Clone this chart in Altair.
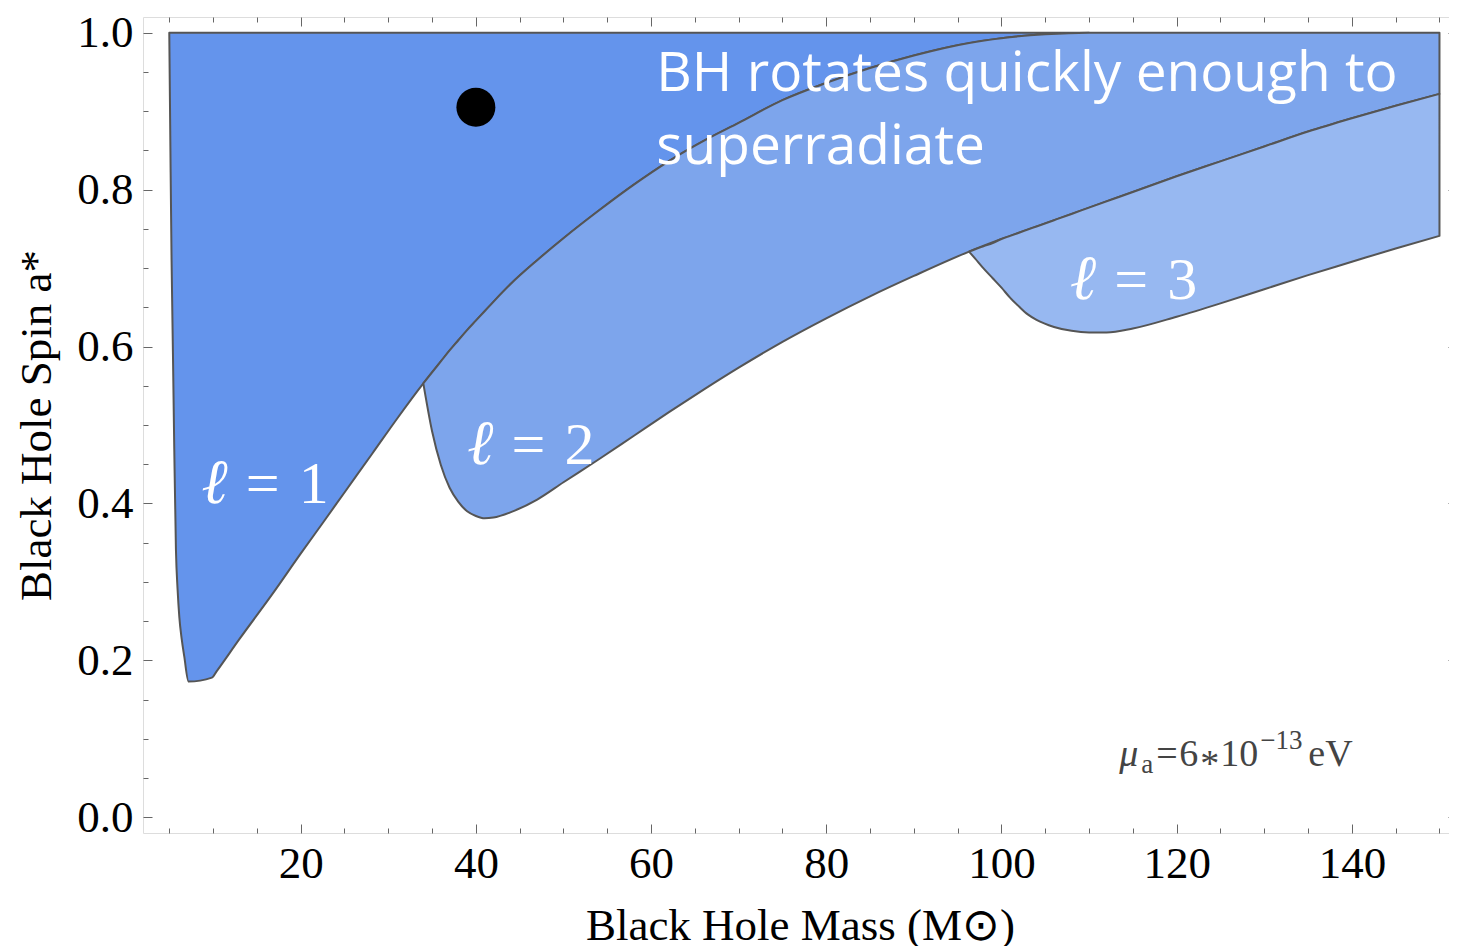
import altair as alt
import pandas as pd

X_DOMAIN = [2, 152]
Y_DOMAIN = [-0.02, 1.02]

X_MAJOR = [20, 40, 60, 80, 100, 120, 140]
X_MINOR = [5, 10, 15, 25, 30, 35, 45, 50, 55, 65, 70, 75, 85, 90, 95, 105, 110, 115, 125, 130, 135, 145, 150]
Y_MAJOR = [0.0, 0.2, 0.4, 0.6, 0.8, 1.0]
Y_MINOR = [0.05, 0.1, 0.15, 0.25, 0.3, 0.35, 0.45, 0.5, 0.55, 0.65, 0.7, 0.75, 0.85, 0.9, 0.95]

# l = 1 region: lower boundary, top is spin 1.0
l1_x = [5.0, 5.13, 5.26, 5.42, 5.57, 5.76, 5.95, 6.14, 6.42, 6.71,
        7.2, 9.87, 10.4, 13, 16.8, 20, 22.7, 25, 28.2, 31, 34,
        36, 38, 40, 42, 44, 47, 50, 54, 58, 62,
        66, 70, 75, 80, 85, 90, 95, 100, 105, 110]
l1_lo = [1.0, 0.85, 0.711, 0.59, 0.469, 0.341, 0.29, 0.256, 0.227, 0.205,
         0.173, 0.178, 0.186, 0.227, 0.285, 0.336, 0.378, 0.414, 0.464, 0.508, 0.553,
         0.581, 0.608, 0.633, 0.657, 0.680, 0.710, 0.738, 0.773, 0.806, 0.836,
         0.862, 0.885, 0.914, 0.936, 0.955, 0.971, 0.984, 0.993, 0.998, 1.0]
l1_hi = [1.0, 1.0, 1.0, 1.0, 1.0, 1.0, 1.0, 1.0, 1.0, 1.0,
         1.0, 1.0, 1.0, 1.0, 1.0, 1.0, 1.0, 1.0, 1.0, 1.0, 1.0,
         1.0, 1.0, 1.0, 1.0, 1.0, 1.0, 1.0, 1.0, 1.0, 1.0,
         1.0, 1.0, 1.0, 1.0, 1.0, 1.0, 1.0, 1.0, 1.0, 1.0]

# l = 2 region
l2_x = [34, 35, 36, 37, 38, 39, 40, 41, 42, 44,
        47, 50, 54, 58, 62, 66, 70, 75, 80, 85,
        90, 96.3, 100, 105, 110, 115, 120, 125, 130, 135,
        140, 145, 150]
l2_lo = [0.553, 0.492, 0.449, 0.420, 0.402, 0.390, 0.384, 0.381, 0.382, 0.389,
         0.405, 0.427, 0.456, 0.486, 0.516, 0.545, 0.573, 0.606, 0.636, 0.664,
         0.690, 0.721, 0.737, 0.757, 0.777, 0.797, 0.817, 0.836, 0.855, 0.874,
         0.891, 0.907, 0.922]
l2_hi = [0.553, 0.567, 0.581, 0.595, 0.608, 0.621, 0.633, 0.645, 0.657, 0.680,
         0.710, 0.738, 0.773, 0.806, 0.836, 0.862, 0.885, 0.914, 0.936, 0.955,
         0.971, 0.987, 0.993, 0.998, 1.0, 1.0, 1.0, 1.0, 1.0, 1.0,
         1.0, 1.0, 1.0]

# l = 3 region
l3_x = [96.3, 97, 98, 99, 100, 101, 102, 103, 104, 106,
        108, 110, 112, 115, 120, 125, 130, 135, 140, 145, 150]
l3_lo = [0.721, 0.712, 0.699, 0.687, 0.675, 0.662, 0.651, 0.641, 0.634, 0.625,
         0.620, 0.618, 0.618, 0.623, 0.638, 0.655, 0.673, 0.691, 0.708, 0.725, 0.741]
l3_hi = [0.721, 0.724, 0.728, 0.732, 0.737, 0.741, 0.745, 0.749, 0.753, 0.761,
         0.769, 0.777, 0.785, 0.797, 0.817, 0.836, 0.855, 0.874, 0.891, 0.907, 0.922]

REGION_COLORS = ["#6494EC", "#7DA5EC", "#97B8F1"]
STROKE = "#555555"

DOT_X = [40]
DOT_Y = [0.905]

ANN_LINES = ["BH rotates quickly enough to", "superradiate"]
ANN_X = [60.6, 60.6]
ANN_Y = [0.926, 0.833]

# l labels: anchor is the centre of the "=" sign
L_NAME = ["ℓ", "ℓ", "ℓ"]
L_NUM = ["1", "2", "3"]
L_X = [15.67, 46.0, 114.8]
L_Y = [0.401, 0.450, 0.660]

MU_X = [113.45]
MU_Y = [0.065]

xsc = alt.Scale(domain=X_DOMAIN, nice=False, zero=False)
ysc = alt.Scale(domain=Y_DOMAIN, nice=False, zero=False)
SERIF = "Liberation Serif"
TICK = "#666666"


def xy():
    return dict(x=alt.X("x:Q", scale=xsc, axis=None), y=alt.Y("y:Q", scale=ysc, axis=None))


def region(xs, lo, hi, color):
    df = pd.DataFrame({"x": xs, "lo": lo, "hi": hi})
    return alt.Chart(df).mark_area(
        interpolate="monotone", color=color, opacity=1,
        stroke=STROKE, strokeWidth=2, strokeJoin="round"
    ).encode(
        x=alt.X("x:Q", scale=xsc, axis=None),
        y=alt.Y("lo:Q", scale=ysc, axis=None),
        y2="hi:Q",
    )


layers = [
    region(l1_x, l1_lo, l1_hi, REGION_COLORS[0]),
    region(l2_x, l2_lo, l2_hi, REGION_COLORS[1]),
    region(l3_x, l3_lo, l3_hi, REGION_COLORS[2]),
]

dot = alt.Chart(pd.DataFrame({"x": DOT_X, "y": DOT_Y})).mark_circle(
    size=1520, color="black", opacity=1
).encode(**xy())
layers.append(dot)

ann = alt.Chart(pd.DataFrame({"x": ANN_X, "y": ANN_Y, "t": ANN_LINES})).mark_text(
    align="left", baseline="alphabetic", font="Open Sans", fontSize=55, color="white"
).encode(text="t:N", **xy())
layers.append(ann)

ldf = pd.DataFrame({"x": L_X, "y": L_Y, "n": L_NAME, "d": L_NUM})
layers.append(alt.Chart(ldf).mark_text(
    align="right", baseline="alphabetic", font="DejaVu Serif", fontStyle="italic",
    fontSize=63, color="white", dx=-35
).encode(text="n:N", **xy()))
layers.append(alt.Chart(ldf).mark_text(
    align="center", baseline="alphabetic", font=SERIF, fontSize=60, color="white",
    text="="
).encode(**xy()))
layers.append(alt.Chart(ldf).mark_text(
    align="left", baseline="alphabetic", font=SERIF, fontSize=60, color="white", dx=36
).encode(text="d:N", **xy()))

# mu_a = 6*10^-13 eV, built from pieces
mdf = pd.DataFrame({"x": MU_X, "y": MU_Y})
MU_COLOR = "#444444"


def mu_piece(text, dx, dy, size, style="normal"):
    return alt.Chart(mdf).mark_text(
        align="left", baseline="alphabetic", font=SERIF, fontSize=size,
        fontStyle=style, color=MU_COLOR, dx=dx, dy=dy, text=text
    ).encode(**xy())


layers += [
    mu_piece("μ", 0, 0, 38, "italic"),
    mu_piece("a", 22, 7, 27),
    mu_piece("=", 37, 0, 38),
    mu_piece("6", 60, 0, 38),
    mu_piece("*", 81, 10, 38),
    mu_piece("10", 101, 0, 38),
    mu_piece("−13", 141, -17, 27),
    mu_piece("eV", 189, 0, 38),
]

ax_df = pd.DataFrame({"x": [X_DOMAIN[0]], "y": [Y_DOMAIN[0]]})


def tick_axis(orient, values, size, **kw):
    return alt.Axis(orient=orient, values=values, tickSize=size, offset=-size,
                    domain=False, grid=False, tickColor=TICK, tickWidth=1, **kw)


no_lab = dict(labels=False, title=None)

x_bottom_major = tick_axis(
    "bottom", X_MAJOR, 9, format="d", labelFont=SERIF, labelFontSize=45,
    labelColor="black", labelPadding=8, labelFlush=False, labelOverlap=False,
    title="Black Hole Mass (M⊙)", titleFont=SERIF, titleFontSize=45,
    titleFontWeight="normal", titleColor="black", titlePadding=17)
y_left_major = tick_axis(
    "left", Y_MAJOR, 9, format=".1f", labelFont=SERIF, labelFontSize=45,
    labelColor="black", labelPadding=10, labelFlush=False, labelOverlap=False,
    title="Black Hole Spin a*", titleFont=SERIF, titleFontSize=45,
    titleFontWeight="normal", titleColor="black", titlePadding=17)

axis_pairs = [
    (x_bottom_major, y_left_major),
    (tick_axis("bottom", X_MINOR, 5, **no_lab), tick_axis("left", Y_MINOR, 5, **no_lab)),
    (tick_axis("top", X_MAJOR, 9, **no_lab), tick_axis("right", Y_MAJOR, 9, **no_lab)),
    (tick_axis("top", X_MINOR, 5, **no_lab), tick_axis("right", Y_MINOR, 5, **no_lab)),
]
for xa, ya in axis_pairs:
    layers.append(
        alt.Chart(ax_df).mark_point(opacity=0).encode(
            x=alt.X("x:Q", scale=xsc, axis=xa),
            y=alt.Y("y:Q", scale=ysc, axis=ya),
        )
    )

chart = alt.layer(*layers).resolve_axis(x="independent", y="independent").properties(
    width=1314, height=816,
    padding={"left": 135, "top": 9, "right": -8, "bottom": 113},
    autosize="none",
).configure_view(stroke="#666666", strokeWidth=1).configure(background="white")

chart.save("out.html", embed_options={"renderer": "svg", "actions": False})
